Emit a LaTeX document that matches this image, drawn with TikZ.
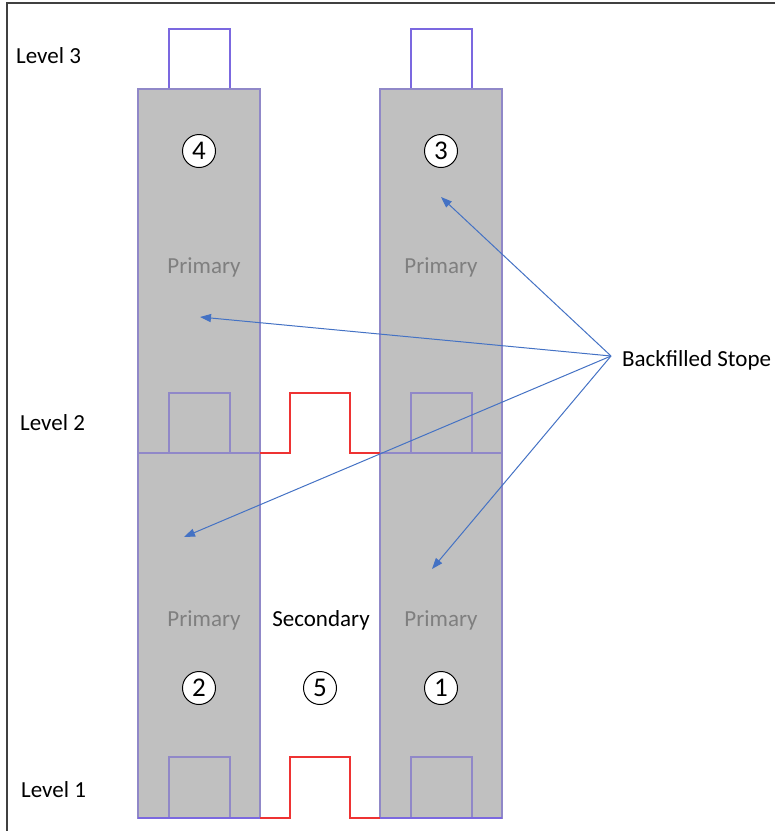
\documentclass[tikz,border=0pt]{standalone}
\usepackage{fontspec}
\setmainfont{Carlito}
\usetikzlibrary{arrows.meta}
\definecolor{stopegray}{HTML}{C0C0C0}
\definecolor{stopeline}{HTML}{9088C8}
\definecolor{drift}{HTML}{7B68E0}
\definecolor{redline}{HTML}{EE3333}
\definecolor{arrowblue}{HTML}{4472C4}
\definecolor{primtext}{HTML}{7F7F7F}
\tikzset{
  stope/.style={fill=stopegray, draw=stopeline, line width=1.3pt},
  topdrift/.style={draw=drift, fill=white, line width=1.3pt},
  indrift/.style={draw=stopeline, line width=1.3pt},
  secdrift/.style={draw=redline, fill=white, line width=1.3pt},
  num/.style={circle, draw=black, fill=white, line width=1pt, minimum size=33pt, inner sep=0pt, font=\fontsize{27}{29}\selectfont},
  lbl/.style={font=\fontsize{23}{26}\selectfont, inner sep=0pt},
  prim/.style={lbl, text=primtext},
  pointer/.style={draw=arrowblue, line width=1pt, -{Triangle[length=11pt, width=8pt]}},
  frame/.style={draw=black!75, line width=2.2pt}
}
\begin{document}
\begin{tikzpicture}[x=1pt, y=-1pt]
\useasboundingbox (0,0) rectangle (775,831);
% frame
\draw[frame] (7,831) -- (7,3) -- (775,3);
% top drifts level 3
\draw[topdrift] (169,89) rectangle (230,29);
\draw[topdrift] (411,89) rectangle (472,29);
% stopes
\draw[stope] (138,89) rectangle (260,453);
\draw[stope] (138,453) rectangle (260,818);
\draw[stope] (380,89) rectangle (502,453);
\draw[stope] (380,453) rectangle (502,818);
% drifts level 2
\draw[indrift] (169,453) -- (169,393) -- (230,393) -- (230,453);
\draw[indrift] (411,453) -- (411,393) -- (472,393) -- (472,453);
\draw[secdrift] (260,453) -- (290,453) -- (290,393) -- (350,393) -- (350,453) -- (380,453);
% drifts level 1
\draw[indrift] (169,818) -- (169,757) -- (230,757) -- (230,818);
\draw[indrift] (411,818) -- (411,757) -- (472,757) -- (472,818);
\draw[draw=drift, line width=1.3pt] (138,818) -- (260,818);
\draw[draw=drift, line width=1.3pt] (380,818) -- (502,818);
\draw[secdrift] (260,818) -- (290,818) -- (290,757) -- (350,757) -- (350,818) -- (380,818);
% numbers
\node[num] (n4) at (199,151) {4};
\node[num] (n3) at (441,151) {3};
\node[num] (n2) at (199,688) {2};
\node[num] (n5) at (320,688) {5};
\node[num] (n1) at (441,688) {1};
% texts
\node[prim] (p4) at (204,267) {Primary};
\node[prim] (p3) at (441,267) {Primary};
\node[prim] (p2) at (204,620) {Primary};
\node[prim] (p1) at (441,620) {Primary};
\node[lbl] (sec) at (321,620) {Secondary};
\node[lbl, anchor=west] (l3) at (16,56) {Level 3};
\node[lbl, anchor=west] (l2) at (20,423) {Level 2};
\node[lbl, anchor=west] (l1) at (21,790) {Level 1};
\node[lbl, anchor=west] (bs) at (622,360) {Backfilled Stope};
% arrows
\coordinate (src) at (611,356);
\coordinate (t3) at (441,197);
\coordinate (t4) at (200,317);
\coordinate (t2) at (184,537);
\coordinate (t1) at (432,569);
\draw[pointer] (src) -- (t3);
\draw[pointer] (src) -- (t4);
\draw[pointer] (src) -- (t2);
\draw[pointer] (src) -- (t1);
\end{tikzpicture}
\end{document}
